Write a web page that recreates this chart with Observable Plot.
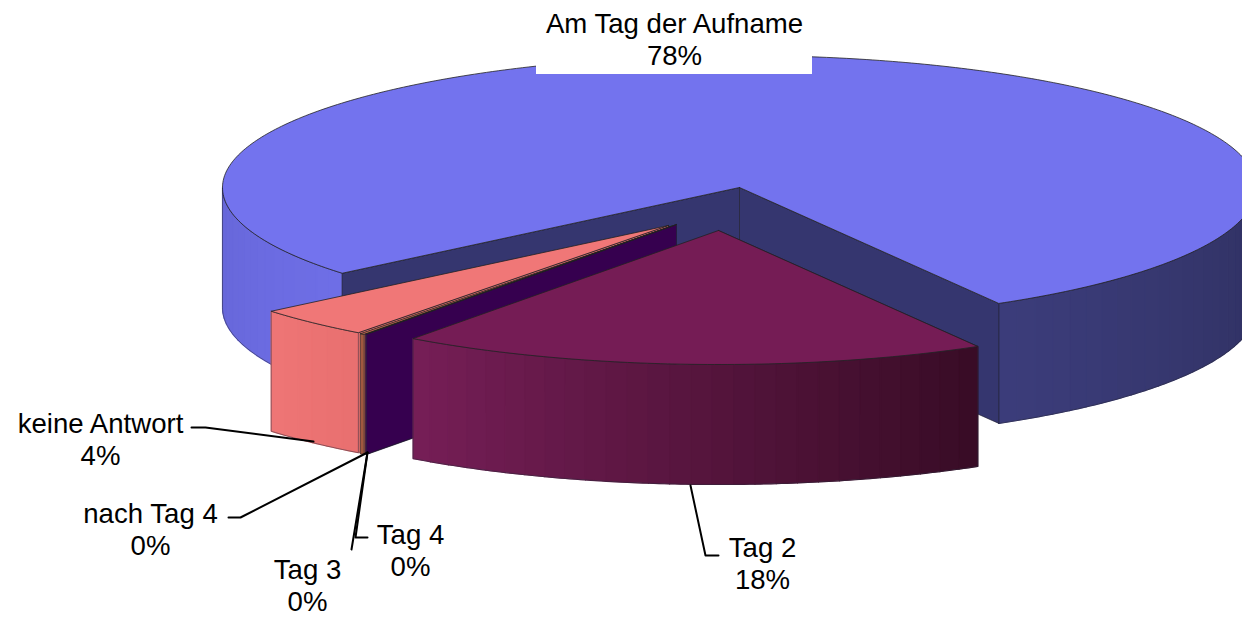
<!DOCTYPE html>
<html>
<head>
<meta charset="utf-8">
<style>html,body{margin:0;padding:0;background:#fff;overflow:hidden}svg{display:block}</style>
<script src="https://cdn.jsdelivr.net/npm/d3@7"></script>
<script src="https://cdn.jsdelivr.net/npm/@observablehq/plot@0.6"></script>
</head>
<body>
<div id="chart"></div>
<script>
// Data (percent shares, clockwise from the right edge of "Am Tag der Aufname")
const categories = ["Tag 2", "Tag 3", "Tag 4", "nach Tag 4", "keine Antwort", "Am Tag der Aufname"];
const shares = [18.42, 0.02, 0.02, 0.14, 3.71, 77.69];
const shownPercent = [18, 0, 0, 0, 4, 78];

// Projection of the 3D pie
const W = 1242, H = 617;
const cx = 739, cy = 187, rx = 517, ryBack = 132, ryFront = 134, depth = 120, startDeg = 59.9;

// Per-slice explosion offset and styling
const offsetX = [-21, -63, -64, -69, -71, 0];
const offsetY = [43, 37, 38, 39, 38, 0];
const radiusScale = [1, 1.015, 1, 1, 1, 1];
const topFill = ["#751C55", "#36004F", "#36004F", "#B5654A", "#F07777", "#7373EE"];
const wallFill = ["#3A0D28", "#36004F", "#36004F", "#A0583F", "#EE7575", "#35366F"];
const rimFrom = ["#751E56", "#36004F", "#36004F", "#A0583F", "#EE7575", "#3B3C7A"];
const rimTo = ["#390C26", "#36004F", "#36004F", "#A0583F", "#E97070", "#2F3060"];

// Angles derived from the shares
let acc = startDeg;
const slices = categories.map((name, i) => {
  const t0 = acc, t1 = acc + shares[i] * 3.6;
  acc = t1;
  return {name, i, t0, t1, ax: cx + offsetX[i], ay: cy + offsetY[i], k: radiusScale[i]};
});
const rad = d => d * Math.PI / 180;
const pt = (s, t, dz = 0) => {
  const sin = Math.sin(rad(t));
  return {x: s.ax + s.k * rx * Math.cos(rad(t)), y: s.ay + s.k * (sin > 0 ? ryFront : ryBack) * sin + dz};
};
const arc = (s, a, b, dz = 0) => {
  const n = Math.max(1, Math.ceil(Math.abs(b - a) / 0.75));
  return d3.range(n + 1).map(j => pt(s, a + (b - a) * j / n, dz));
};
const face = (points, fill, stroke, strokeWidth = 0.7) =>
  Plot.line([...points, points[0]], {x: "x", y: "y", fill, stroke, strokeWidth, curve: "linear", strokeLinejoin: "round"});

function rimMarks(s, a, b, colorA, colorB) {
  const out = [], step = 2.4, n = Math.max(1, Math.round(Math.abs(b - a) / step));
  const mix = d3.interpolateRgb(colorA, colorB);
  for (let j = 0; j < n; j++) {
    const u0 = a + (b - a) * j / n, u1 = a + (b - a) * (j + 1) / n;
    const c = mix(n > 1 ? j / (n - 1) : 0);
    out.push(face([...arc(s, u0, u1), ...arc(s, u1, u0, depth)], c, c, 1.2));
  }
  out.push(face([...arc(s, a, b), ...arc(s, b, a, depth)], "none", "#2a2a3a", 0.5));
  return out;
}
function wallFace(s, t, fill) {
  const apex = {x: s.ax, y: s.ay}, apexLow = {x: s.ax, y: s.ay + depth};
  return face([apex, pt(s, t), pt(s, t, depth), apexLow], fill, "#1c1c2c", 0.6);
}
function topFace(s, fill) {
  return face([{x: s.ax, y: s.ay}, ...arc(s, s.t0, s.t1)], fill, "#222", 0.8);
}

const [tag2, tag3, tag4, nach, keine, amTag] = slices;
const marks = [];

// Main slice
marks.push(...rimMarks(amTag, amTag.t0, 180, "#6E6EE6", "#6666D8"));
marks.push(...rimMarks(amTag, 360, amTag.t1, rimTo[5], rimFrom[5]));
marks.push(wallFace(amTag, amTag.t1, wallFill[5]), wallFace(amTag, amTag.t0, wallFill[5]), topFace(amTag, topFill[5]));

// Exploded slices, back to front
for (const s of [keine, nach, tag4, tag3, tag2]) {
  marks.push(wallFace(s, s.t0, wallFill[s.i]));
  marks.push(...rimMarks(s, s.t1, s.t0, rimFrom[s.i], rimTo[s.i]));
  marks.push(topFace(s, topFill[s.i]));
}

// Label backing over the pie
marks.push(Plot.rect([{x1: 536, x2: 812, y1: 0, y2: 74}], {x1: "x1", x2: "x2", y1: "y1", y2: "y2", fill: "#fff"}));

// Leader lines
const leaders = [
  [[191, 427], [205, 427], [313, 441]],
  [[228, 517], [240, 517], [367, 452]],
  [[351, 549], [367, 452]],
  [[367, 537], [355, 537], [367, 452]],
  [[718, 555], [705, 555], [690, 485]]
];
for (const l of leaders) {
  marks.push(Plot.line(l.map(([x, y]) => ({x, y})), {x: "x", y: "y", stroke: "#000", strokeWidth: 2, curve: "linear"}));
}

// Labels
const labelX = [762, 307, 410, 150, 100, 674];
const labelY = [562, 584, 549, 528, 438, 38.5];
const labels = slices.map((s, i) => ({text: `${s.name}\n${shownPercent[i]}%`, x: labelX[i], y: labelY[i]}));
marks.push(Plot.text(labels, {
  x: "x", y: "y", text: "text", fontSize: 27.6, lineHeight: 1.15,
  fontFamily: "Liberation Sans, Arial, sans-serif", fill: "#000", textAnchor: "middle", lineAnchor: "middle"
}));

const chart = Plot.plot({
  width: W, height: H, margin: 0, clip: true,
  x: {domain: [0, W], range: [0, W], axis: null},
  y: {domain: [0, H], range: [0, H], axis: null},
  style: {background: "#fff"},
  marks
});
document.getElementById("chart").append(chart);
</script>
</body>
</html>
